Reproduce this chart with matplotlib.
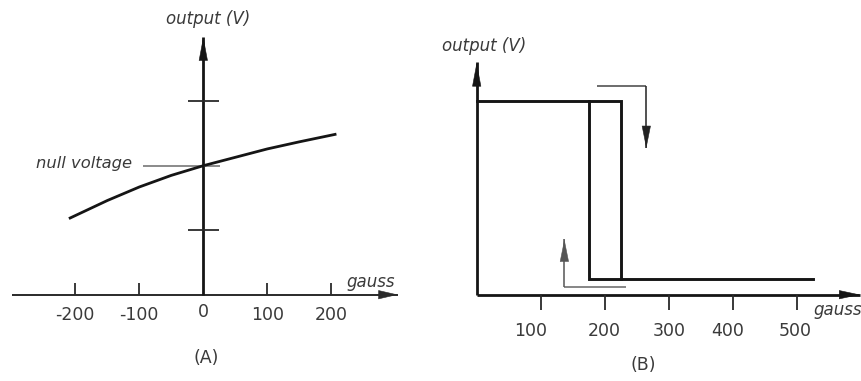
import matplotlib
matplotlib.use("Agg")
import matplotlib.pyplot as plt

# ---- panel A: linear Hall sensor response ----
a_gauss = [-210, -150, -100, -50, 0, 50, 100, 150, 208]
a_output = [1.18, 1.46, 1.67, 1.85, 2.0, 2.13, 2.26, 2.37, 2.49]
a_xticks = [-200, -100, 0, 100, 200]
a_xticklabels = ["-200", "-100", "0", "100", "200"]
a_yticks = [1, 3]
null_voltage = 2.0

# ---- panel B: Hall switch with hysteresis ----
b_high = 3.0
b_low = 0.25
b_operate = 225     # field where output falls (rising field)
b_release = 176     # field where output rises again (falling field)
b_field_end = 525
b_xticks = [100, 200, 300, 400, 500]
b_xticklabels = ["100", "200", "300", "400", "500"]

W, H, DPI = 861, 381, 100
fig = plt.figure(figsize=(W / DPI, H / DPI), dpi=DPI)

PX_X = 0.64      # pixels per gauss
PX_Y = 64.5      # pixels per output unit
AXIS_ROW = 294.7 # pixel row (from top) of the field axis

DARK = "#151515"
GREY = "#444444"
TEXT = "#3a3a3a"


def make_axes(left_px, width_px, zero_px):
    ax = fig.add_axes([left_px / W, 0, width_px / W, 1])
    ax.set_xlim((left_px - zero_px) / PX_X, (left_px + width_px - zero_px) / PX_X)
    ax.set_ylim(-(H - AXIS_ROW) / PX_Y, AXIS_ROW / PX_Y)
    ax.axis("off")
    return ax


def arrow(ax, start, tip, lw, color, hl=1.3, hw=0.3, ms=10):
    """Straight shaft with a slim filled head whose point sits exactly on tip."""
    (x0, y0), (x1, y1) = start, tip
    ax.plot([x0, x1], [y0, y1], color=color, lw=lw, solid_capstyle="butt")
    # short helper segment ending at the tip, used only for the head
    hx = x1 - (x1 - x0) * 0.02
    hy = y1 - (y1 - y0) * 0.02
    ax.annotate("", xy=(x1, y1), xytext=(hx, hy),
                arrowprops=dict(arrowstyle=f"-|>,head_length={hl},head_width={hw}",
                                lw=0.4, color=color, shrinkA=0, shrinkB=0,
                                mutation_scale=ms))


# ================= panel A =================
axA = make_axes(0, 430, 203.3)

# field axis and output axis
arrow(axA, (-299, 0), (304, 0), 1.4, "#2a2a2a", hl=1.3, hw=0.3)
arrow(axA, (0, 0), (0, 4.0), 2.0, DARK, hl=1.6, hw=0.3)

for t, lab in zip(a_xticks, a_xticklabels):
    if t != 0:
        axA.plot([t, t], [0, 0.18], color="#2a2a2a", lw=1.3, solid_capstyle="butt")
    axA.text(t, -0.27 if t == 0 else -0.315, lab, ha="center", va="center",
             fontsize=12.5, color=TEXT)

for v in a_yticks:
    axA.plot([-24, 24], [v, v], color="#2a2a2a", lw=1.3, solid_capstyle="butt")

# null voltage marker
axA.plot([-94, 26], [null_voltage, null_voltage], color="#8a8a8a", lw=1.4,
         solid_capstyle="butt")
axA.text(-111, null_voltage + 0.04, "null voltage", ha="right", va="center",
         fontsize=11.8, style="italic", color=TEXT)

# response curve
axA.plot(a_gauss, a_output, color=DARK, lw=2.0, solid_capstyle="butt")

axA.text(8, 4.27, "output (V)", ha="center", va="center", fontsize=12,
         style="italic", color=TEXT)
axA.text(262, 0.2, "gauss", ha="center", va="center", fontsize=12,
         style="italic", color=TEXT)
axA.text(5, -0.98, "(A)", ha="center", va="center", fontsize=12.5, color=TEXT)

# ================= panel B =================
axB = make_axes(430, 431, 476.7)

arrow(axB, (0, 0), (599, 0), 2.0, DARK, hl=1.4, hw=0.3)
arrow(axB, (0, 0), (0, 3.6), 2.0, DARK, hl=1.6, hw=0.3)

label_nudge = [-15, 0, 0, -8, -3]
for t, lab, dx in zip(b_xticks, b_xticklabels, label_nudge):
    axB.plot([t, t], [0, -0.24], color="#2a2a2a", lw=1.3, solid_capstyle="butt")
    axB.text(t + dx, -0.57, lab, ha="center", va="center", fontsize=12.5,
             color=TEXT)

# hysteresis loop
axB.plot([0, b_operate, b_operate, b_field_end],
         [b_high, b_high, b_low, b_low], color=DARK, lw=2.1,
         solid_joinstyle="miter")
axB.plot([b_release, b_release, b_operate], [b_high, b_low, b_low],
         color=DARK, lw=2.1, solid_joinstyle="miter")

# direction arrows
axB.plot([188, 265], [3.23, 3.23], color=GREY, lw=1.1, solid_capstyle="butt")
arrow(axB, (265, 3.23), (265, 2.27), 1.1, "#222222", hl=1.5, hw=0.3)
axB.plot([234, 137], [0.125, 0.125], color="#666666", lw=1.1,
         solid_capstyle="butt")
arrow(axB, (137, 0.125), (137, 0.86), 1.1, "#555555", hl=1.5, hw=0.3)

axB.text(11, 3.85, "output (V)", ha="center", va="center", fontsize=12,
         style="italic", color=TEXT)
axB.text(526, -0.24, "gauss", ha="left", va="center", fontsize=12,
         style="italic", color=TEXT)
axB.text(261, -1.09, "(B)", ha="center", va="center", fontsize=12.5,
         color=TEXT)

fig.savefig("out.png", dpi=DPI, facecolor="white")
